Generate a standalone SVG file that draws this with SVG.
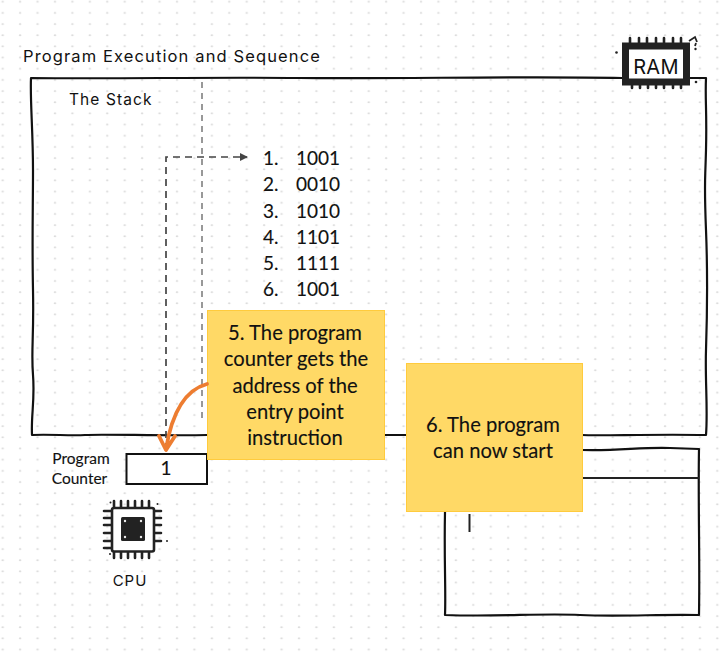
<svg xmlns="http://www.w3.org/2000/svg" width="720" height="652" viewBox="0 0 720 652">
<style>
text{font-family:"Lato","Liberation Sans",sans-serif;fill:#111;stroke:#111;stroke-width:.12}
.hand{font-family:"Inter","DejaVu Sans",sans-serif;font-weight:400;fill:#111;stroke:none}
.body{font-size:19px}
.note{font-size:20.200px;text-anchor:middle}
.sk{fill:none;stroke:#111;stroke-width:2.200;stroke-linecap:round;stroke-linejoin:round}
.pin{stroke:#222;stroke-width:2.600;fill:none;stroke-linecap:round}
.yb{fill:#FFD966;stroke:#FFCB3D;stroke-width:1}
</style>
<defs>
<pattern id="dots" width="17.430" height="11.170" patternUnits="userSpaceOnUse" x="-0.300" y="-1.300"><ellipse cx="3" cy="3" rx="1.300" ry="1" fill="#dcdcdc"/></pattern>
<marker id="ah" markerWidth="8" markerHeight="8" refX="7" refY="4" orient="auto" markerUnits="userSpaceOnUse"><path d="M0 0L8 4L0 8Z" fill="#444"/></marker>
</defs>
<rect width="720" height="652" fill="#fff"/>
<rect width="720" height="652" fill="url(#dots)"/>
<g id="title"><text class="hand" x="23" y="62" font-size="16.500" letter-spacing="1.120">Program Execution and Sequence</text></g>
<g id="stack">
<path class="sk" d="M622 78C520 76 400 79 300 78S120 79 31 78C30 100 33 130 33 170S32 240 33 290S31 350 33 375S31 415 32 435C50 434 70 436 85 435S170 436 207 435"/>
<path class="sk" d="M384 435H406M582 435C600 436 650 434 706 435C708 410 705 380 706 350S708 280 706 230S705 190 706 150S705 100 706 78H690"/>
<text class="hand" x="69" y="105" font-size="15.500" letter-spacing="1.100">The Stack</text>
</g>
<g id="ram">
<path class="pin" d="M630 38V44M639 38V44M647 38V44M656 38V44M664 38V44M673 38V44M681 38V44M632 85V88M640 85V88M648 85V88M656 85V88M664 85V88M673 85V88M681 85V88"/>
<rect x="625.500" y="46" width="61" height="36" fill="#fff" stroke="#222" stroke-width="7"/>
<text class="hand" x="656" y="74" font-size="20" text-anchor="middle" letter-spacing="0.300">RAM</text>
<path d="M689 41L695 37L697 42M696 43L695 46" fill="none" stroke="#222" stroke-width="1.800"/>
<circle cx="695.500" cy="49" r="1.200" fill="#222"/><circle cx="616.500" cy="52.500" r="1.300" fill="#222"/><circle cx="696" cy="82" r="1.300" fill="#222"/>
</g>
<g id="connectors">
<path d="M202 82V422" fill="none" stroke="#777" stroke-width="1.500" stroke-dasharray="6 5"/>
<path d="M240 157H166V446" fill="none" stroke="#444" stroke-width="1.700" stroke-dasharray="7 5"/>
<path d="M240 157H247" stroke="#444" stroke-width="1.500" marker-end="url(#ah)"/>
</g>
<g id="list">
<text class="body"><tspan x="263" y="165">1.</tspan><tspan x="296" y="165">1001</tspan><tspan x="263" y="191">2.</tspan><tspan x="296" y="191">0010</tspan><tspan x="263" y="218">3.</tspan><tspan x="296" y="218">1010</tspan><tspan x="263" y="244">4.</tspan><tspan x="296" y="244">1101</tspan><tspan x="263" y="270">5.</tspan><tspan x="296" y="270">1111</tspan><tspan x="263" y="296">6.</tspan><tspan x="296" y="296">1001</tspan></text>
</g>
<g id="memory-box">
<path class="sk" d="M582 450C620 451 640 447 670 448L699 449C698 500 700 560 699 615C660 614 620 617 580 615S500 617 445 615C446 590 444 560 445 512"/>
<path d="M582 478H699" stroke="#222" stroke-width="2" fill="none"/>
<path d="M469.500 514V532" stroke="#222" stroke-width="2" fill="none"/>
</g>
<g id="program-counter">
<rect x="126.500" y="454" width="80.500" height="30" fill="#fff" stroke="#111" stroke-width="2"/>
<text x="166" y="475" font-size="19" text-anchor="middle">1</text>
<text x="81" y="464" font-size="15.500" text-anchor="middle">Program</text>
<text x="79.500" y="484" font-size="15.500" text-anchor="middle">Counter</text>
</g>
<g id="note-5">
<rect class="yb" x="207.500" y="310.500" width="177" height="149"/>
<text class="note"><tspan x="295" y="340">5. The program</tspan><tspan x="296" y="366">counter gets the</tspan><tspan x="295" y="393">address of the</tspan><tspan x="295" y="419">entry point</tspan><tspan x="295" y="445">instruction</tspan></text>
</g>
<g id="note-6">
<rect class="yb" x="406.500" y="363.500" width="176" height="148"/>
<text class="note"><tspan x="493" y="432">6. The program</tspan><tspan x="493" y="458">can now start</tspan></text>
</g>
<g id="orange-arrow">
<path d="M207 384C185 390 172 412 166 449M159 436L166 450L175 436" fill="none" stroke="#ED7D31" stroke-width="3.800" stroke-linecap="round" stroke-linejoin="round"/>
</g>
<g id="cpu">
<path class="pin" stroke-width="2" d="M114 501V507M121 501V507M128 501V507M135 501V507M142 501V507M149 501V507M114 552V558M121 552V558M128 552V558M135 552V558M142 552V558M149 552V558M104 511H112M104 518H112M104 525H112M104 533H112M104 541H112M104 548H112M154 511H161M154 518H161M154 525H161M154 533H161M154 541H161"/>
<rect x="112" y="508" width="42" height="43.500" rx="2" fill="#fff" stroke="#222" stroke-width="2.600"/>
<rect x="121" y="517" width="24" height="24" rx="1.500" fill="#222"/>
<g fill="#eee"><circle cx="125" cy="521" r="1.200"/><circle cx="141" cy="521" r="1.200"/><circle cx="125" cy="537" r="1.200"/><circle cx="141" cy="537" r="1.200"/></g>
<circle cx="167" cy="541" r="1" fill="#222"/><circle cx="110.500" cy="502.500" r="1" fill="#222"/><circle cx="110" cy="554" r="1" fill="#222"/><circle cx="157.500" cy="504" r="1" fill="#222"/>
<text class="hand" x="130" y="586" font-size="15" text-anchor="middle" letter-spacing="1">CPU</text>
</g>
</svg>
